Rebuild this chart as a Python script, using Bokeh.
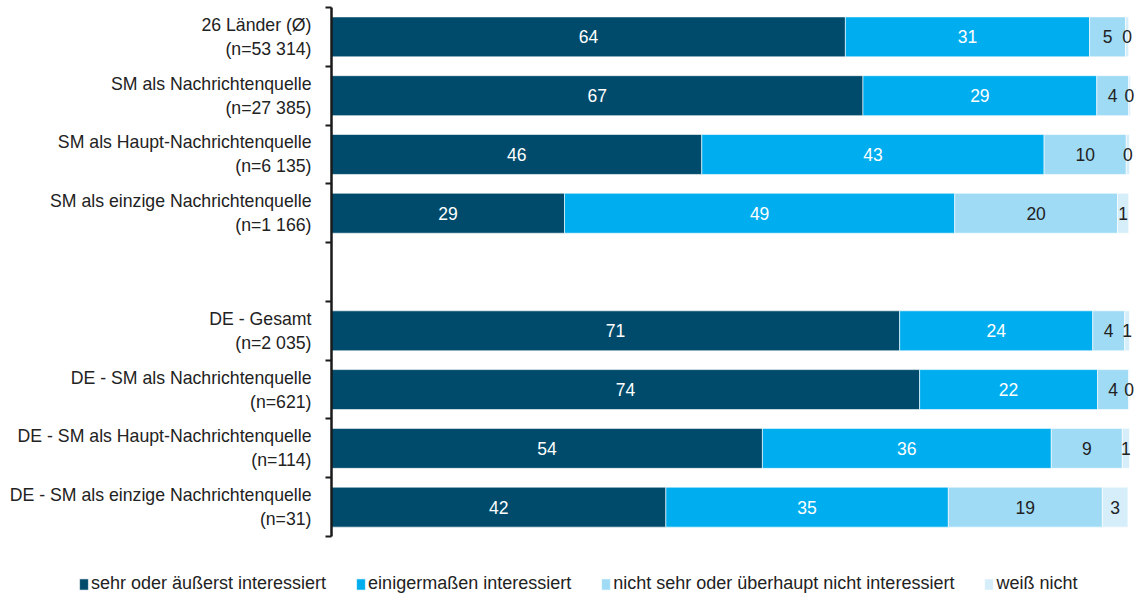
from bokeh.plotting import figure
from bokeh.models import ColumnDataSource, Range1d, FixedTicker, Legend, LegendItem
from bokeh.core.properties import value
from bokeh.embed import file_html
from bokeh.resources import INLINE

FONT = "Liberation Sans"

categories = [
    "26 Länder (Ø)\n(n=53 314)",
    "SM als Nachrichtenquelle\n(n=27 385)",
    "SM als Haupt-Nachrichtenquelle\n(n=6 135)",
    "SM als einzige Nachrichtenquelle\n(n=1 166)",
    "DE - Gesamt\n(n=2 035)",
    "DE - SM als Nachrichtenquelle\n(n=621)",
    "DE - SM als Haupt-Nachrichtenquelle\n(n=114)",
    "DE - SM als einzige Nachrichtenquelle\n(n=31)",
]
slots = [0, 1, 2, 3, 5, 6, 7, 8]  # row 4 is an empty gap
n_slots = 9

series_names = [
    "sehr oder äußerst interessiert",
    "einigermaßen interessiert",
    "nicht sehr oder überhaupt nicht interessiert",
    "weiß nicht",
]
sehr = [64.4, 66.6, 46.4, 29.2, 71.2, 73.7, 54.0, 41.9]
einiger = [30.6, 29.3, 42.9, 48.9, 24.2, 22.3, 36.2, 35.4]
nicht = [4.5, 4.0, 10.3, 20.4, 4.0, 3.9, 8.9, 19.3]
weiss = [0.4, 0.2, 0.4, 1.4, 0.6, 0.1, 0.9, 3.2]

lab_sehr = ["64", "67", "46", "29", "71", "74", "54", "42"]
lab_einiger = ["31", "29", "43", "49", "24", "22", "36", "35"]
lab_nicht = ["5", "4", "10", "20", "4", "4", "9", "19"]
lab_weiss = ["0", "0", "0", "1", "1", "0", "1", "3"]

colors = ["#004b6b", "#00aeef", "#a0dbf6", "#d6eefa"]
text_colors = ["white", "white", "#222222", "#222222"]

series = [sehr, einiger, nicht, weiss]
labels = [lab_sehr, lab_einiger, lab_nicht, lab_weiss]

ycent = [s + 0.5 for s in slots]

p = figure(width=1140, height=598, output_backend="svg", toolbar_location=None,
           x_range=Range1d(-41.48, 101.38), y_range=Range1d(10.054, -0.119),
           x_axis_location=None,
           min_border_left=0, min_border_right=0, min_border_top=0,
           min_border_bottom=0)
p.xgrid.visible = False
p.ygrid.visible = False
p.outline_line_color = None
p.background_fill_color = "white"

legend_items = []
left = [0.0] * len(sehr)
for k, vals in enumerate(series):
    right = [l + v for l, v in zip(left, vals)]
    mid = [(l + r) / 2 for l, r in zip(left, right)]
    src = ColumnDataSource(dict(y=ycent, left=left, right=right, mid=mid, lab=labels[k]))
    r = p.hbar(y="y", left="left", right="right", height=0.68, source=src,
               fill_color=colors[k], line_color="white", line_width=0.6)
    p.text(x="mid", y="y", text="lab", source=src, text_align="center",
           text_baseline="middle", text_color=text_colors[k],
           text_font=value(FONT), text_font_size="17.5px")
    legend_items.append(LegendItem(label=series_names[k], renderers=[r]))
    left = right

yax = p.yaxis[0]
yax.fixed_location = 0
yax.bounds = (0, n_slots)
yax.ticker = FixedTicker(ticks=ycent, minor_ticks=list(range(n_slots + 1)))
yax.major_label_overrides = {c: lab for c, lab in zip(ycent, categories)}
yax.major_tick_line_color = None
yax.major_tick_out = 0
yax.major_tick_in = 0
yax.minor_tick_line_color = "#1a1a1a"
yax.minor_tick_line_width = 2
yax.minor_tick_out = 6
yax.minor_tick_in = 0
yax.axis_line_color = "#1a1a1a"
yax.axis_line_width = 2.5
yax.major_label_standoff = 14
yax.major_label_text_font = FONT
yax.major_label_text_font_size = "17.7px"
yax.major_label_text_color = "#222222"
yax.major_label_text_align = "center"

legend = Legend(items=legend_items, orientation="horizontal", location=(78, 4),
                glyph_width=11, glyph_height=14, label_standoff=2, spacing=29,
                padding=0, margin=0, border_line_color=None, background_fill_alpha=0,
                label_text_font=FONT, label_text_font_size="18px",
                label_text_color="#222222", label_height=16)
p.add_layout(legend, "center")

open("out.html", "w").write(file_html(p, INLINE))
